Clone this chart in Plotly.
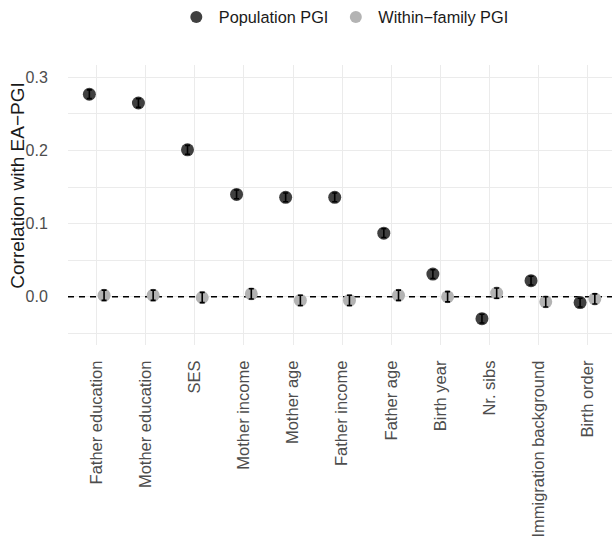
import plotly.graph_objects as go

categories = ["Father education", "Mother education", "SES", "Mother income",
              "Mother age", "Father income", "Father age", "Birth year",
              "Nr. sibs", "Immigration background", "Birth order"]
pop_vals = [0.277, 0.265, 0.201, 0.140, 0.136, 0.136, 0.087, 0.031, -0.030, 0.022, -0.008]
pop_err = [0.006, 0.006, 0.006, 0.006, 0.006, 0.006, 0.006, 0.006, 0.006, 0.006, 0.006]
wf_vals = [0.002, 0.002, -0.001, 0.004, -0.005, -0.005, 0.002, 0.000, 0.005, -0.007, -0.003]
wf_err = [0.007, 0.007, 0.007, 0.007, 0.007, 0.007, 0.007, 0.007, 0.007, 0.007, 0.007]
ref_line_y = 0.0

dodge = 0.15
idx = list(range(len(categories)))
x_range = [-0.585, 10.5]

font_family = "Liberation Sans, Arial, sans-serif"

fig = go.Figure()
# dashed reference line at zero (drawn first, under points)
fig.add_trace(go.Scatter(
    x=x_range, y=[ref_line_y, ref_line_y], mode="lines", showlegend=False, hoverinfo="skip",
    line=dict(color="black", width=1.6, dash="6px,5px"), cliponaxis=False,
))
fig.add_trace(go.Scatter(
    x=[i - dodge for i in idx], y=pop_vals, mode="markers", name="Population PGI",
    marker=dict(size=13, color="#404040"),
))
fig.add_trace(go.Scatter(
    x=[i + dodge for i in idx], y=wf_vals, mode="markers", name="Within\u2212family PGI",
    marker=dict(size=13, color="#b3b3b3"),
))
# error bars on top of points
fig.add_trace(go.Scatter(
    x=[i - dodge for i in idx], y=pop_vals, mode="markers", showlegend=False, hoverinfo="skip",
    marker=dict(size=1, color="rgba(0,0,0,0)"),
    error_y=dict(type="data", array=pop_err, color="black", thickness=1.6, width=2.5),
))
fig.add_trace(go.Scatter(
    x=[i + dodge for i in idx], y=wf_vals, mode="markers", showlegend=False, hoverinfo="skip",
    marker=dict(size=1, color="rgba(0,0,0,0)"),
    error_y=dict(type="data", array=wf_err, color="black", thickness=1.6, width=2.5),
))

fig.add_annotation(
    text="Correlation with EA\u2212PGI", textangle=-90, showarrow=False,
    xref="paper", x=0, xanchor="center", xshift=-50,
    yref="paper", y=0.569, yanchor="middle",
    font=dict(size=19, color="#1a1a1a", family=font_family),
)

fig.update_layout(
    width=612, height=539,
    margin=dict(l=68, r=0, t=62, b=194),
    paper_bgcolor="white", plot_bgcolor="white",
    font=dict(family=font_family, color="#4d4d4d"),
    showlegend=True,
    legend=dict(orientation="h", x=0.507, xanchor="center", y=1.17, yanchor="middle",
                font=dict(size=16.3, color="#1a1a1a"), itemsizing="constant", itemwidth=35),
    xaxis=dict(
        range=x_range, tickmode="array", tickvals=idx, ticktext=categories,
        tickangle=-90, tickfont=dict(size=16.5, color="#4d4d4d"),
        showgrid=True, gridcolor="#ebebeb", gridwidth=1.1, zeroline=False,
        ticks="outside", ticklen=8, tickcolor="rgba(0,0,0,0)", showline=False,
    ),
    yaxis=dict(
        range=[-0.066, 0.317], tickmode="array", tickvals=[0.0, 0.1, 0.2, 0.3],
        ticktext=["0.0", "0.1", "0.2", "0.3"],
        tickfont=dict(size=16, color="#4d4d4d"),
        showgrid=True, gridcolor="#ebebeb", gridwidth=1.1, zeroline=False,
        minor=dict(tickmode="array", tickvals=[-0.05, 0.05, 0.15, 0.25], showgrid=True,
                   gridcolor="#ebebeb", gridwidth=1.1),
        ticks="outside", ticklen=16, tickcolor="rgba(0,0,0,0)",
    ),
)

fig.write_html("out.html")
